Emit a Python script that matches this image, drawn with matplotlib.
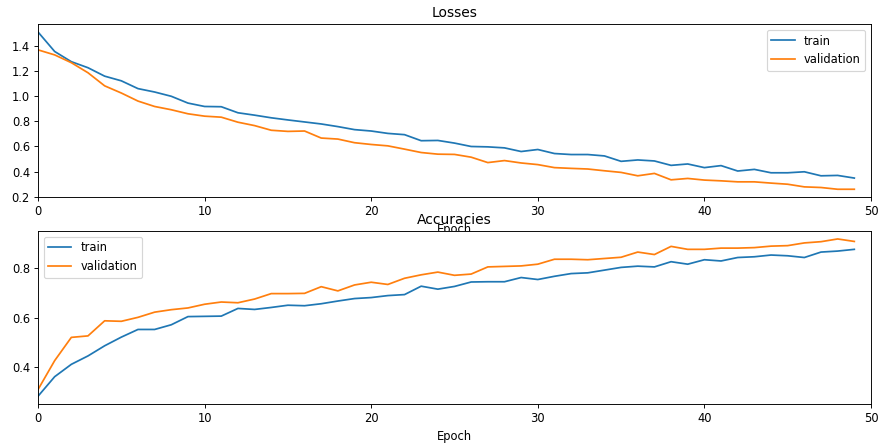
# Training curves: losses and accuracies per epoch

import matplotlib
matplotlib.use("Agg")
import matplotlib.pyplot as plt
from matplotlib.ticker import MultipleLocator
import numpy as np

# Loss history
train_loss = [1.51, 1.355, 1.274, 1.226, 1.159, 1.122, 1.06, 1.033, 0.999, 0.945,
              0.918, 0.916, 0.868, 0.849, 0.828, 0.811, 0.795, 0.779, 0.758, 0.734,
              0.723, 0.704, 0.694, 0.646, 0.648, 0.627, 0.60, 0.597, 0.589, 0.56,
              0.576, 0.544, 0.536, 0.536, 0.525, 0.482, 0.493, 0.485, 0.45, 0.461,
              0.432, 0.448, 0.405, 0.418, 0.391, 0.391, 0.399, 0.367, 0.37, 0.349]
val_loss = [1.368, 1.328, 1.266, 1.186, 1.082, 1.025, 0.961, 0.918, 0.892, 0.86,
            0.841, 0.833, 0.793, 0.766, 0.729, 0.72, 0.723, 0.667, 0.659, 0.63,
            0.616, 0.605, 0.579, 0.552, 0.539, 0.537, 0.515, 0.472, 0.488, 0.469,
            0.456, 0.432, 0.426, 0.421, 0.407, 0.394, 0.367, 0.386, 0.335, 0.346,
            0.333, 0.327, 0.319, 0.319, 0.309, 0.30, 0.279, 0.274, 0.26, 0.26]

# Accuracy history
train_acc = [0.282, 0.361, 0.411, 0.445, 0.486, 0.521, 0.552, 0.552, 0.571, 0.604,
             0.605, 0.606, 0.637, 0.633, 0.641, 0.65, 0.648, 0.656, 0.667, 0.677,
             0.681, 0.689, 0.693, 0.727, 0.715, 0.726, 0.744, 0.745, 0.745, 0.762,
             0.754, 0.767, 0.778, 0.781, 0.792, 0.803, 0.808, 0.805, 0.826, 0.816,
             0.834, 0.829, 0.843, 0.846, 0.853, 0.85, 0.843, 0.865, 0.869, 0.876]
val_acc = [0.309, 0.426, 0.52, 0.526, 0.587, 0.585, 0.601, 0.622, 0.632, 0.639,
           0.654, 0.663, 0.66, 0.675, 0.697, 0.697, 0.698, 0.725, 0.708, 0.732,
           0.743, 0.734, 0.759, 0.773, 0.784, 0.771, 0.776, 0.805, 0.807, 0.809,
           0.816, 0.836, 0.836, 0.834, 0.839, 0.844, 0.865, 0.855, 0.888, 0.876,
           0.876, 0.881, 0.881, 0.883, 0.889, 0.891, 0.902, 0.907, 0.918, 0.908]

epochs = np.arange(len(train_loss))

DPI = 83
fig = plt.figure(figsize=(878 / DPI, 447 / DPI), dpi=DPI)

ax1 = fig.add_axes([0.0433, 0.559, 0.9487, 0.387])
ax1.plot(epochs, train_loss, label="train")
ax1.plot(epochs, val_loss, label="validation")
ax1.set_xlim(0, 50)
ax1.yaxis.set_major_locator(MultipleLocator(0.2))
ax1.set_title("Losses")
ax1.set_xlabel("Epoch")
ax1.legend(loc="upper right")

ax2 = fig.add_axes([0.0433, 0.096, 0.9487, 0.387])
ax2.plot(epochs, train_acc, label="train")
ax2.plot(epochs, val_acc, label="validation")
ax2.set_xlim(0, 50)
ax2.yaxis.set_major_locator(MultipleLocator(0.2))
ax2.set_title("Accuracies")
ax2.set_xlabel("Epoch")
ax2.legend(loc="upper left")

fig.savefig("out.png", dpi=DPI)
